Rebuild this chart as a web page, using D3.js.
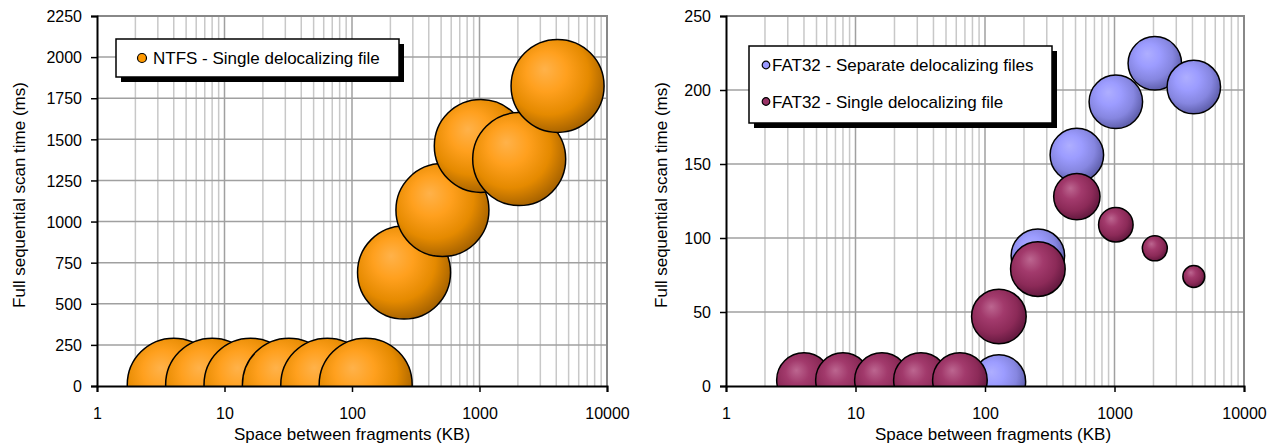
<!DOCTYPE html>
<html>
<head>
<meta charset="utf-8">
<title>Full sequential scan time</title>
<script src="https://cdn.jsdelivr.net/npm/d3@7"></script>
<style>
    body{
        margin:0;
        background:#ffffff;
    }
    svg text{
        font-family:"Liberation Sans", Arial, Helvetica, sans-serif;
        fill:#000;
    }
    .minor line{
        stroke:#c8c8c8;
        stroke-width:1.5px;
    }
    .major line{
        stroke:#a0a0a0;
        stroke-width:1.5px;
    }
    .bubble{
        stroke:#000;
        stroke-width:1.5px;
    }
</style>
</head>
<body>
<svg id="chart" width="1270" height="445"></svg>
<script>

// ---------------- data ----------------
var xTickValues = [1, 10, 100, 1000, 10000];

// left chart : NTFS
var ntfsX    = [4, 8, 16, 32, 64, 128, 256, 512, 1024, 2048, 4096];
var ntfsY    = [8, 8, 8, 8, 8, 8, 690, 1070, 1460, 1380, 1825];
var ntfsSize = [100, 100, 100, 100, 100, 100, 100, 100, 100, 100, 100];
var ntfsYTicks = [0, 250, 500, 750, 1000, 1250, 1500, 1750, 2000, 2250];

// right chart : FAT32
var sepX    = [128, 256, 512, 1024, 2048, 4096];
var sepY    = [3, 88, 156, 192, 218, 202];
var sepSize = [96, 96, 96, 96, 96, 96];

var singleX    = [4, 8, 16, 32, 64, 128, 256, 512, 1024, 2048, 4096];
var singleY    = [4, 4, 4, 4, 4, 47, 79, 128, 109, 93, 74];
var singleSize = [100, 100, 100, 100, 100, 100, 100, 72, 40, 21, 16];
var fatYTicks = [0, 50, 100, 150, 200, 250];

var xTitle = "Space between fragments (KB)";
var yTitle = "Full sequential scan time (ms)";

// ---------------- drawing ----------------
var svg = d3.select("#chart");
var defs = svg.append("defs");

// radial gradients, light spot up-left, dark rim
function makeGradient(id, stops){
    var g = defs.append("radialGradient")
        .attr("id", id)
        .attr("cx", "0.42").attr("cy", "0.4")
        .attr("fx", "0.36").attr("fy", "0.32")
        .attr("r", "0.62");
    g.selectAll("stop")
        .data(stops)
        .enter()
        .append("stop")
        .attr("offset", function(d){ return d[0]; })
        .attr("stop-color", function(d){ return d[1]; });
}
makeGradient("gOrange", [[0, "#ffb24a"], [0.35, "#ffa01e"], [0.7, "#e58a00"], [1, "#a66200"]]);
makeGradient("gBlue",   [[0, "#aeaeff"], [0.35, "#9c9cff"], [0.7, "#8686e0"], [1, "#5c5ca8"]]);
makeGradient("gMaroon", [[0, "#bc6690"], [0.35, "#a23a6c"], [0.7, "#8c2a58"], [1, "#62183e"]]);

function drawChart(cfg){
    var g = svg.append("g");

    var x = d3.scaleLog()
        .domain([1, 10000])
        .range([cfg.left, cfg.right]);

    var y = d3.scaleLinear()
        .domain([0, cfg.yMax])
        .range([cfg.bottom, cfg.top]);

    // plot background
    g.append("rect")
        .attr("x", cfg.left).attr("y", cfg.top)
        .attr("width", cfg.right - cfg.left)
        .attr("height", cfg.bottom - cfg.top)
        .attr("fill", "#fff");

    // minor vertical grid
    var minor = [];
    for (var d = 1; d < 10000; d *= 10){
        for (var k = 2; k < 10; k++) minor.push(d * k);
    }
    g.append("g").attr("class", "minor")
        .selectAll("line")
        .data(minor)
        .enter()
        .append("line")
        .attr("x1", function(d){ return x(d); })
        .attr("x2", function(d){ return x(d); })
        .attr("y1", cfg.top).attr("y2", cfg.bottom);

    // major grid
    var major = g.append("g").attr("class", "major");
    major.selectAll("line.v")
        .data(xTickValues.slice(1, -1))
        .enter()
        .append("line")
        .attr("class", "v")
        .attr("x1", function(d){ return x(d); })
        .attr("x2", function(d){ return x(d); })
        .attr("y1", cfg.top).attr("y2", cfg.bottom);
    major.selectAll("line.h")
        .data(cfg.yTicks.slice(1))
        .enter()
        .append("line")
        .attr("class", "h")
        .attr("x1", cfg.left).attr("x2", cfg.right)
        .attr("y1", function(d){ return y(d); })
        .attr("y2", function(d){ return y(d); });

    // top and right border
    g.append("path")
        .attr("d", "M" + cfg.left + "," + cfg.top + "H" + cfg.right + "V" + cfg.bottom)
        .attr("fill", "none")
        .attr("stroke", "#888")
        .attr("stroke-width", 2);

    // bubbles, clipped to plot area
    var clipId = "clip" + cfg.id;
    defs.append("clipPath").attr("id", clipId)
        .append("rect")
        .attr("x", cfg.left).attr("y", cfg.top)
        .attr("width", cfg.right - cfg.left)
        .attr("height", cfg.bottom - cfg.top);

    var r = d3.scaleSqrt().domain([0, 100]).range([0, cfg.maxR]);

    var bubbles = g.append("g").attr("clip-path", "url(#" + clipId + ")");
    cfg.series.forEach(function(s){
        var pts = s.x.map(function(v, i){ return {x: v, y: s.y[i], size: s.size[i]}; });
        bubbles.append("g")
            .selectAll("circle")
            .data(pts)
            .enter()
            .append("circle")
            .attr("class", "bubble")
            .attr("cx", function(d){ return x(d.x); })
            .attr("cy", function(d){ return y(d.y); })
            .attr("r", function(d){ return r(d.size); })
            .attr("fill", "url(#" + s.grad + ")");
    });

    // axes
    var yAxis = g.append("g")
        .attr("transform", "translate(" + cfg.left + ",0)")
        .call(d3.axisLeft(y).tickValues(cfg.yTicks).tickSize(6).tickPadding(9).tickFormat(d3.format("d")));
    var xAxis = g.append("g")
        .attr("transform", "translate(0," + cfg.bottom + ")")
        .call(d3.axisBottom(x).tickValues(xTickValues).tickSize(6).tickPadding(16).tickFormat(d3.format("d")));

    [yAxis, xAxis].forEach(function(a){
        a.select(".domain").attr("stroke", "#000").attr("stroke-width", 2);
        a.selectAll(".tick line").attr("stroke", "#000").attr("stroke-width", 1.5);
        a.selectAll("text").attr("font-size", "16px").attr("font-family", null);
    });
    yAxis.selectAll("text").attr("dy", "0.36em");

    // axis titles
    g.append("text")
        .text(xTitle)
        .attr("x", cfg.xTitleX)
        .attr("y", 440)
        .attr("text-anchor", "middle")
        .attr("font-size", "17px");
    g.append("text")
        .text(yTitle)
        .attr("transform", "translate(" + cfg.yTitleX + "," + 195 + ") rotate(-90)")
        .attr("text-anchor", "middle")
        .attr("font-size", "17px");

    // legend with drop shadow
    var L = cfg.legend;
    g.append("rect")
        .attr("x", L.x + 5).attr("y", L.y + 5)
        .attr("width", L.w).attr("height", L.h)
        .attr("fill", "#000");
    g.append("rect")
        .attr("x", L.x).attr("y", L.y)
        .attr("width", L.w).attr("height", L.h)
        .attr("fill", "#fff")
        .attr("stroke", "#000")
        .attr("stroke-width", 1.5);
    var items = g.selectAll(".leg" + cfg.id)
        .data(cfg.series)
        .enter()
        .append("g")
        .attr("transform", function(d, i){ return "translate(" + (L.x + L.markX) + "," + (L.y + L.firstY + i * L.step) + ")"; });
    items.append("circle")
        .attr("r", L.markR)
        .attr("fill", function(d){ return d.color; })
        .attr("stroke", "#000")
        .attr("stroke-width", 1.2);
    items.append("text")
        .text(function(d){ return d.name; })
        .attr("x", L.textDx)
        .attr("dy", "0.36em")
        .attr("font-size", "17px");
}

drawChart({
    id: "L",
    left: 97, right: 607, top: 16, bottom: 386,
    yMax: 2250, yTicks: ntfsYTicks,
    maxR: 46.5,
    xTitleX: 352, yTitleX: 25,
    legend: {x: 116, y: 39, w: 283, h: 38, markX: 26, firstY: 19, step: 0, markR: 4.5, textDx: 11},
    series: [
        {name: "NTFS - Single delocalizing file", x: ntfsX, y: ntfsY, size: ntfsSize, grad: "gOrange", color: "#ff9900"}
    ]
});

drawChart({
    id: "R",
    left: 726, right: 1244, top: 16, bottom: 386,
    yMax: 250, yTicks: fatYTicks,
    maxR: 27.3,
    xTitleX: 993, yTitleX: 667,
    legend: {x: 749, y: 46, w: 303, h: 77, markX: 17, firstY: 19, step: 36.5, markR: 3.8, textDx: 6},
    series: [
        {name: "FAT32 - Separate delocalizing files", x: sepX, y: sepY, size: sepSize, grad: "gBlue", color: "#9999ff"},
        {name: "FAT32 - Single delocalizing file", x: singleX, y: singleY, size: singleSize, grad: "gMaroon", color: "#993366"}
    ]
});

</script>
</body>
</html>
